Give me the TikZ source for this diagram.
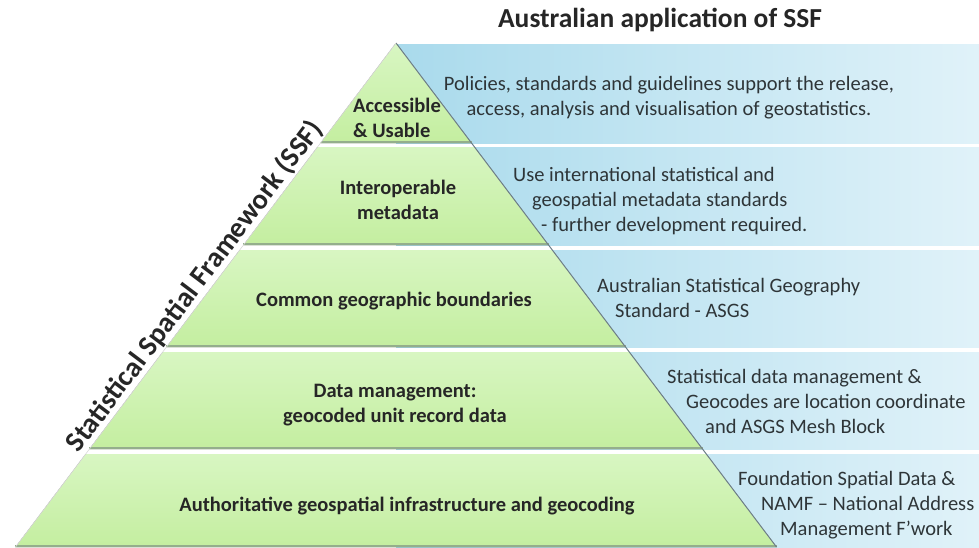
\documentclass[tikz,border=0pt]{standalone}
\usepackage{fontspec}
\setmainfont{Carlito}
\definecolor{lvlgreen}{HTML}{C4EEA0}
\definecolor{lvlgreenlight}{HTML}{D8F6C2}
\definecolor{appblue}{HTML}{A9DAEC}
\definecolor{appbluelight}{HTML}{E0F2F9}
\definecolor{shadowgreen}{HTML}{94AE8C}
\definecolor{edgegray}{HTML}{6F7F88}
\definecolor{apptextgray}{HTML}{2E3538}
\begin{document}
\begin{tikzpicture}[x=1pt,y=-1pt,
  greenlayer/.style={top color=lvlgreenlight, bottom color=lvlgreen},
  bluelayer/.style={left color=appblue, right color=appbluelight},
  shadowline/.style={draw=shadowgreen, line width=1.6pt},
  edgeline/.style={draw=edgegray, line width=1pt},
  lvltext/.style={font=\fontsize{20.5}{25}\selectfont\bfseries, text=black!85, align=center, inner sep=0pt},
  apptext/.style={font=\fontsize{20.5}{25}\selectfont, text=apptextgray, align=left, inner sep=0pt, anchor=north west},
  titletext/.style={font=\fontsize{27.5}{30}\selectfont\bfseries, text=black!85}]
\useasboundingbox (0,0) rectangle (979,547);
\coordinate (apex) at (396,43);
\coordinate (baseL) at (15.5,547);
\coordinate (baseR) at (776.5,547);
% bands: blue behind, green pyramid layer in front
\foreach \t/\b in {44/143,147/245,250/347,352/449,454/547}{
  \fill[bluelayer] (396,\t) rectangle (979,\b);
  \fill[greenlayer] ({396-0.755*(\t-43)},\t) -- ({396+0.755*(\t-43)},\t)
    -- ({396+0.755*(\b-43)},\b) -- ({396-0.755*(\b-43)},\b) -- cycle;
  \draw[shadowline] ({396-0.755*(\b-43)},\b-1) -- ({396+0.755*(\b-43)},\b-1);
}
\draw[edgeline] (apex) -- (baseR);
\draw[draw=black!15, line width=0.6pt] (apex) -- (baseL);
\path (baseL) -- (apex) node[pos=0.5, sloped, above, inner sep=1pt, font=\fontsize{28.5}{30}\selectfont\bfseries, text=black!85] (ssf) {Statistical Spatial Framework (SSF)};
\node[titletext] (title) at (660,20) {Australian application of SSF};
% pyramid levels
\node[lvltext, align=left] (access) at (397,118) {Accessible\\\& Usable};
\node[lvltext] (interop) at (398,200) {Interoperable\\metadata};
\node[lvltext] (bounds) at (394,301) {Common geographic boundaries};
\node[lvltext] (datamgmt) at (395,405) {Data management:\\geocoded unit record data};
\node[lvltext] (authgeo) at (407,506) {Authoritative geospatial infrastructure and geocoding};
% application side
\node[apptext, align=center, anchor=center] (policies) at (669,98) {Policies, standards and guidelines support the release,\\access, analysis and visualisation of geostatistics.};
\node[apptext] (metastd) at (513,167) {Use international statistical and\\\hspace*{19pt}geospatial metadata standards\\\hspace*{28pt}- further development required.};
\node[apptext] (asgs) at (597,278) {Australian Statistical Geography\\\hspace*{18pt}Standard - ASGS};
\node[apptext] (statmgmt) at (667,369) {Statistical data management \&\\\hspace*{19pt}Geocodes are location coordinate\\\hspace*{38pt}and ASGS Mesh Block};
\node[apptext] (found) at (738,471) {Foundation Spatial Data \&\\\hspace*{23pt}NAMF – National Address\\\hspace*{42pt}Management F’work};
\end{tikzpicture}
\end{document}
